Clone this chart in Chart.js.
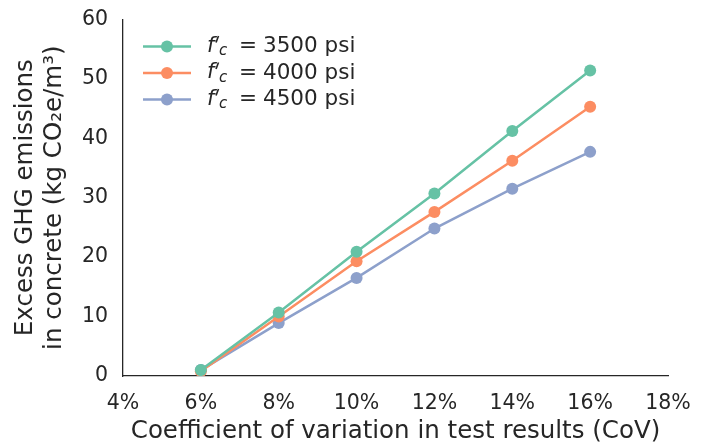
<!DOCTYPE html>
<html>
<head>
<meta charset="utf-8">
<script src="https://cdn.jsdelivr.net/npm/chart.js@4"></script>
<style>
  html, body { margin: 0; padding: 0; background: #fff; }
  #wrap { width: 709px; height: 444px; position: relative; }
</style>
</head>
<body>
<div id="wrap"><canvas id="chart"></canvas></div>
<script>
// ── Data ─────────────────────────────────────────────────────────
const COV_PCT   = [6, 8, 10, 12, 14, 16];
const FC_3500   = [1.0, 10.7, 20.9, 30.7, 41.2, 51.4];
const FC_4000   = [0.8, 10.0, 19.3, 27.6, 36.2, 45.3];
const FC_4500   = [1.0, 8.9, 16.5, 24.8, 31.5, 37.7];
const STRENGTHS = ['3500', '4000', '4500'];
const X_TICKS   = [4, 6, 8, 10, 12, 14, 16, 18];

const COLORS = ['#66c2a5', '#fc8d62', '#8da0cb'];
const FONT   = '"DejaVu Sans", sans-serif';
const INK    = '#262626';

const series = [FC_3500, FC_4000, FC_4500];

// matplotlib-style legend with italic f'c and a subscript
const mathLegend = {
  id: 'mathLegend',
  afterDraw(chart) {
    const ctx = chart.ctx;
    ctx.save();
    STRENGTHS.forEach((s, i) => {
      const y = 46.5 + i * 26.5;
      ctx.strokeStyle = COLORS[i];
      ctx.lineWidth = 2.5;
      ctx.beginPath();
      ctx.moveTo(143, y);
      ctx.lineTo(191, y);
      ctx.stroke();
      ctx.fillStyle = COLORS[i];
      ctx.beginPath();
      ctx.arc(167, y, 6, 0, Math.PI * 2);
      ctx.fill();

      ctx.fillStyle = INK;
      ctx.textBaseline = 'middle';
      ctx.textAlign = 'left';
      ctx.font = 'italic 21px ' + FONT;
      ctx.fillText('f', 207, y);
      // prime as a slanted stroke
      ctx.strokeStyle = INK;
      ctx.lineWidth = 1.6;
      ctx.beginPath();
      ctx.moveTo(218.5, y - 10.5);
      ctx.lineTo(216, y - 4);
      ctx.stroke();
      ctx.font = 'italic 15px ' + FONT;
      ctx.fillText('c', 219, y + 5);
      ctx.font = '21.5px ' + FONT;
      ctx.fillText('=', 239, y);
      ctx.fillText(s + ' psi', 263, y);
    });
    ctx.restore();
  }
};

new Chart(document.getElementById('chart'), {
  type: 'line',
  data: {
    datasets: series.map((vals, i) => ({
      label: 'f\u2032c = ' + STRENGTHS[i] + ' psi',
      data: COV_PCT.map((c, j) => ({ x: c, y: vals[j] })),
      borderColor: COLORS[i],
      backgroundColor: COLORS[i],
      borderWidth: 2.5,
      pointRadius: 6,
      pointBorderWidth: 0,
      tension: 0,
      fill: false,
    }))
  },
  options: {
    responsive: true,
    maintainAspectRatio: false,
    animation: false,
    layout: { padding: { left: 0, right: 41, top: 17, bottom: 0 } },
    scales: {
      x: {
        type: 'linear',
        min: 4, max: 18,
        afterBuildTicks: s => { s.ticks = X_TICKS.map(v => ({ value: v })); },
        afterFit: s => { s.height = 68; },
        grid: { display: false },
        border: { display: true, color: INK, width: 1.3 },
        ticks: { color: INK, font: { family: FONT, size: 20.5 }, padding: 7,
                 callback: v => v + '%', maxRotation: 0 },
        title: { display: true, text: 'Coefficient of variation in test results (CoV)',
                 color: INK, font: { family: FONT, size: 24.5, lineHeight: 1 }, padding: { top: 0, bottom: 0 } }
      },
      y: {
        min: 0, max: 60,
        afterFit: s => { s.width = 123; },
        grid: { display: false },
        border: { display: true, color: INK, width: 1.3 },
        ticks: { color: INK, font: { family: FONT, size: 20.5 }, stepSize: 10, padding: 7 },
        title: { display: true, text: ['Excess GHG emissions', 'in concrete (kg CO\u2082e/m\u00b3)'],
                 color: INK, font: { family: FONT, size: 24.5, lineHeight: 1.2 }, padding: { top: 11, bottom: 0 } }
      }
    },
    plugins: {
      legend: { display: false },
      tooltip: { enabled: false }
    }
  },
  plugins: [mathLegend]
});
</script>
</body>
</html>
